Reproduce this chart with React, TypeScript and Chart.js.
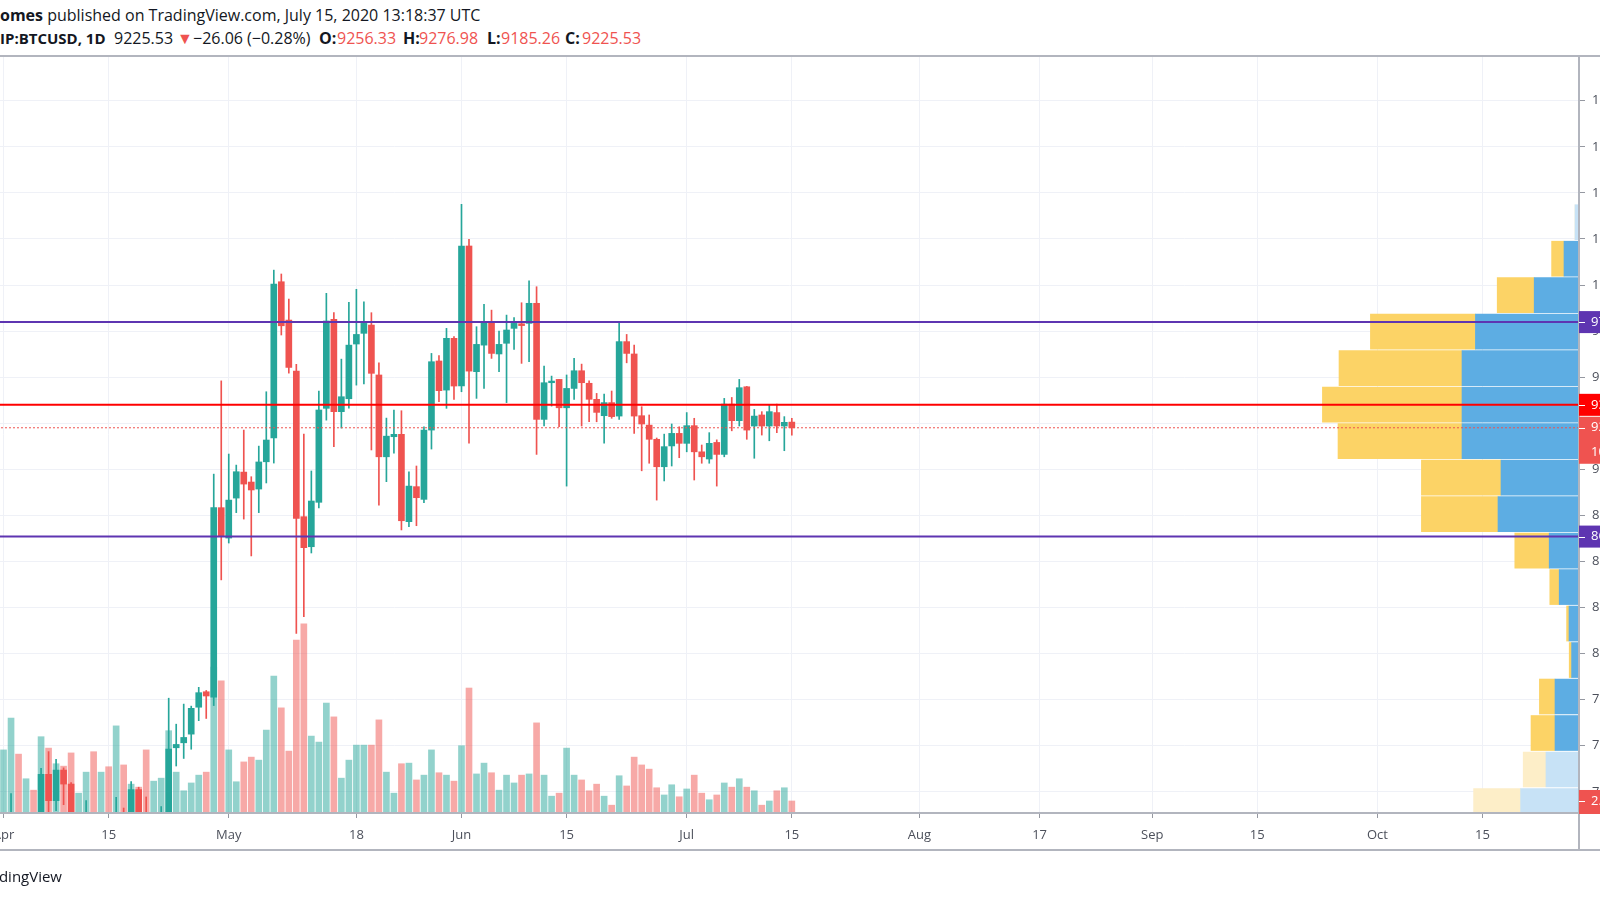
import React, { useEffect, useRef } from "react";
import { Chart, registerables } from "chart.js";

Chart.register(...registerables);

// ---------- data ----------
const dates = [
  "2020-04-01","2020-04-02","2020-04-03","2020-04-04","2020-04-05","2020-04-06","2020-04-07","2020-04-08","2020-04-09","2020-04-10",
  "2020-04-11","2020-04-12","2020-04-13","2020-04-14","2020-04-15","2020-04-16","2020-04-17","2020-04-18","2020-04-19","2020-04-20",
  "2020-04-21","2020-04-22","2020-04-23","2020-04-24","2020-04-25","2020-04-26","2020-04-27","2020-04-28","2020-04-29","2020-04-30",
  "2020-05-01","2020-05-02","2020-05-03","2020-05-04","2020-05-05","2020-05-06","2020-05-07","2020-05-08","2020-05-09","2020-05-10",
  "2020-05-11","2020-05-12","2020-05-13","2020-05-14","2020-05-15","2020-05-16","2020-05-17","2020-05-18","2020-05-19","2020-05-20",
  "2020-05-21","2020-05-22","2020-05-23","2020-05-24","2020-05-25","2020-05-26","2020-05-27","2020-05-28","2020-05-29","2020-05-30",
  "2020-05-31",
  "2020-06-01","2020-06-02","2020-06-03","2020-06-04","2020-06-05","2020-06-06","2020-06-07","2020-06-08","2020-06-09","2020-06-10",
  "2020-06-11","2020-06-12","2020-06-13","2020-06-14","2020-06-15","2020-06-16","2020-06-17","2020-06-18","2020-06-19","2020-06-20",
  "2020-06-21","2020-06-22","2020-06-23","2020-06-24","2020-06-25","2020-06-26","2020-06-27","2020-06-28","2020-06-29","2020-06-30",
  "2020-07-01","2020-07-02","2020-07-03","2020-07-04","2020-07-05","2020-07-06","2020-07-07","2020-07-08","2020-07-09","2020-07-10",
  "2020-07-11","2020-07-12","2020-07-13","2020-07-14","2020-07-15",
];

const opens = [
  6410, 6640, 6800, 6735, 6860, 6775, 7345, 7202, 7368, 7292, 6865, 6890, 6910, 6850, 6860, 6630, 7110, 7040, 7262, 7130,
  6850, 6860, 7130, 7489, 7516, 7563, 7709, 7793, 7763, 8792,
  8627, 8844, 8985, 8931, 8893, 9041, 9170, 10018, 9810, 9533, 8743, 8580, 8821, 9331, 9814, 9313, 9383, 9680, 9738, 9783,
  9512, 9068, 9177, 9190, 8716, 8906, 8837, 9213, 9588, 9430, 9711,
  9452, 10212, 9530, 9674, 9801, 9626, 9684, 9765, 9790, 9792, 9901, 9271, 9470, 9488, 9334, 9439, 9535, 9467, 9380, 9291,
  9362, 9289, 9693, 9626, 9291, 9240, 9163, 9014, 9127, 9195,
  9141, 9237, 9095, 9056, 9146, 9081, 9354, 9264, 9448, 9235, 9295, 9235, 9308, 9235, 9256.33,
];

const highs = [
  6700, 7240, 7030, 6990, 6880, 7378, 7468, 7426, 7380, 7300, 6950, 7202, 6915, 6980, 6940, 7220, 7162, 7306, 7275, 7222,
  6950, 7170, 7758, 7617, 7726, 7715, 7817, 7800, 8974, 9480,
  9083, 9023, 9213, 8960, 9126, 9421, 10081, 10060, 9924, 9570, 9191, 8991, 9425, 9955, 9850, 9598, 9906, 9977, 9909, 9850,
  9578, 9278, 9322, 9318, 8987, 9018, 9231, 9629, 9617, 9765, 9720,
  10438, 10248, 9774, 9895, 9864, 9750, 9837, 9823, 9904, 10023, 9991, 9560, 9506, 9488, 9512, 9602, 9571, 9480, 9412, 9408,
  9425, 9801, 9732, 9674, 9340, 9295, 9170, 9191, 9246, 9231,
  9308, 9277, 9132, 9199, 9160, 9385, 9390, 9488, 9450, 9325, 9313, 9352, 9354, 9286, 9276.98,
];

const lows = [
  6150, 6580, 6600, 6680, 6670, 6770, 7100, 7148, 7180, 6750, 6770, 6810, 6550, 6770, 6610, 6480, 6990, 7030, 7060, 6800,
  6800, 6840, 7030, 7390, 7431, 7481, 7636, 7648, 7718, 8400,
  8600, 8765, 8730, 8530, 8765, 8926, 9034, 9729, 9522, 8110, 8200, 8546, 8790, 9267, 9123, 9224, 9332, 9457, 9463, 9105,
  8806, 8933, 9088, 8671, 8689, 8694, 8819, 9110, 9367, 9331, 9380,
  9421, 9142, 9385, 9439, 9602, 9530, 9362, 9651, 9575, 9584, 9081, 9235, 9343, 9231, 8909, 9380, 9235, 9258, 9258, 9142,
  9277, 9271, 9578, 9195, 8992, 9033, 8833, 8937, 9018, 9063,
  9095, 8942, 9033, 9033, 8909, 9068, 9209, 9235, 9163, 9060, 9186, 9155, 9199, 9101, 9185.26,
];

const closes = [
  6640, 6800, 6735, 6860, 6775, 7345, 7202, 7368, 7292, 6865, 6890, 6910, 6850, 6860, 6630, 7110, 7040, 7262, 7130, 6850,
  6860, 7130, 7482, 7507, 7545, 7703, 7788, 7770, 8792, 8638,
  8833, 8987, 8920, 8888, 9040, 9159, 10005, 9779, 9553, 8734, 8575, 8828, 9322, 9805, 9313, 9394, 9674, 9732, 9792, 9521,
  9068, 9180, 9190, 8721, 8909, 8846, 9213, 9584, 9427, 9711, 9452,
  10212, 9533, 9678, 9801, 9629, 9678, 9756, 9792, 9780, 9901, 9271, 9470, 9479, 9334, 9439, 9535, 9470, 9380, 9309, 9362,
  9286, 9693, 9629, 9289, 9246, 9163, 9014, 9123, 9195, 9141,
  9237, 9095, 9068, 9141, 9081, 9354, 9264, 9443, 9213, 9289, 9235, 9313, 9235, 9255, 9225.53,
];

// volume, thousand BTC
const volumes = [
  10.5, 15.8, 9.8, 5.7, 3.8, 12.7, 10.8, 8.2, 7.8, 10.0, 3.3, 6.8, 10.2, 6.8, 7.7, 14.5, 8.0, 4.8, 4.3, 10.5,
  5.3, 5.8, 13.7, 6.8, 3.7, 5.0, 6.3, 6.8, 24.3, 22.0,
  10.5, 5.2, 8.5, 9.3, 8.8, 13.8, 22.8, 17.5, 10.3, 28.8, 31.5, 12.8, 11.8, 18.3, 16.0, 5.8, 8.8, 11.3, 11.3, 11.3,
  15.5, 6.8, 3.3, 8.2, 8.3, 5.5, 6.3, 10.5, 6.7, 6.3, 5.3,
  11.2, 20.8, 6.5, 8.3, 6.7, 3.8, 6.3, 5.0, 6.3, 6.5, 15.0, 6.3, 2.8, 3.3, 10.8, 6.3, 5.5, 3.7, 4.8, 2.8,
  1.3, 6.2, 4.5, 9.3, 8.0, 7.3, 4.2, 3.0, 4.7, 2.7,
  4.0, 6.3, 3.3, 2.2, 3.0, 5.0, 4.3, 5.7, 4.3, 3.7, 1.3, 2.0, 3.7, 4.2, 2.0,
];

// time axis ticks (days after 2020-04-01)
const xTickDays = [0, 14, 30, 47, 61, 75, 91, 105, 122, 138, 153, 167, 183, 197];
const xTickLabels = ["Apr", "15", "May", "18", "Jun", "15", "Jul", "15", "Aug", "17", "Sep", "15", "Oct", "15"];

// price axis ticks
const yTickValues = [7250, 7500, 7750, 8000, 8250, 8500, 8750, 9000, 9250, 9500, 9750, 10000, 10250, 10500, 10750, 11000];

// volume profile (visible range), row centre prices and up / down volume
const profilePrices = [10341, 10143, 9945, 9747, 9549, 9351, 9153, 8955, 8757, 8559, 8361, 8163, 7965, 7767, 7569, 7371, 7173];
const profileUp = [2.0, 7.5, 22.4, 51.8, 58.5, 58.5, 58.5, 39.0, 40.5, 14.9, 9.9, 5.0, 3.7, 12.0, 12.0, 16.5, 29.2];
const profileDown = [0, 6.2, 18.5, 52.5, 61.5, 69.8, 62.0, 39.8, 38.3, 17.2, 4.7, 1.2, 1.2, 7.8, 12.0, 11.4, 23.5];
const profileValueArea = [false, true, true, true, true, true, true, true, true, true, true, true, true, true, true, false, false];

// horizontal levels
const resistanceLevel = 9799;
const pivotLevel = 9350;
const supportLevel = 8635;
const lastPrice = 9225.53;
const countdownText = "10:41:23";

// ---------- layout / style ----------
const CANVAS_W = 1660;
const CANVAS_H = 900;
const AREA_RIGHT = 1579;
const PRICE_MIN = 7135;
const PRICE_MAX = 11243;
const X_MIN = -0.47;
const X_MAX = 209.85;

const UP = "#26a69a";
const DOWN = "#ef5350";
const UP_VOL = "rgba(38,166,154,0.5)";
const DOWN_VOL = "rgba(239,83,80,0.5)";
const PURPLE = "#5e35b1";
const GRID = "#eff1f7";
const FRAME = "#b2b5be";
const AXIS_TEXT = "#4c505b";
const FONT = "'Open Sans', sans-serif";

export default function App() {
  const ref = useRef<HTMLCanvasElement | null>(null);

  useEffect(() => {
    const canvas = ref.current;
    if (!canvas) return;
    const t0 = Date.parse("2020-04-01");
    const dayIdx = dates.map((d) => (Date.parse(d) - t0) / 86400000);
    const isUp = closes.map((c, i) => c >= opens[i]);
    const candleColors = isUp.map((u) => (u ? UP : DOWN));
    const volColors = isUp.map((u) => (u ? UP_VOL : DOWN_VOL));
    const profTotals = profileUp.map((u, i) => u + profileDown[i]);
    const profMax = Math.max(...profTotals) / 0.1625;

    const hline = (level: number, color: string, width: number, dash: number[] = []) => ({
      type: "line" as const,
      data: [
        { x: X_MIN - 2, y: level },
        { x: X_MAX + 2, y: level },
      ],
      borderColor: color,
      borderWidth: width,
      borderDash: dash,
      pointRadius: 0,
      xAxisID: "x",
      yAxisID: "y",
      order: 0,
      fill: false,
    });

    const overlay = {
      id: "tvOverlay",
      afterDraw(chart: any) {
        const ctx = chart.ctx as CanvasRenderingContext2D;
        const ys = chart.scales.y;
        const yv = chart.scales.yv;
        const area = chart.chartArea;
        ctx.save();
        ctx.strokeStyle = FRAME;
        ctx.lineWidth = 2;
        ctx.beginPath();
        ctx.moveTo(0, area.top);
        ctx.lineTo(CANVAS_W, area.top);
        ctx.moveTo(0, area.bottom);
        ctx.lineTo(CANVAS_W, area.bottom);
        ctx.moveTo(0, 850);
        ctx.lineTo(CANVAS_W, 850);
        ctx.moveTo(area.right, area.top);
        ctx.lineTo(area.right, 851);
        ctx.stroke();

        const box = (y: number, color: string, lines: string[], h = 22) => {
          ctx.fillStyle = color;
          ctx.fillRect(area.right, y - 11, CANVAS_W - area.right, h);
          ctx.strokeStyle = "#ffffff";
          ctx.lineWidth = 1;
          ctx.beginPath();
          ctx.moveTo(area.right, Math.round(y) + 0.5);
          ctx.lineTo(area.right + 6, Math.round(y) + 0.5);
          ctx.stroke();
          ctx.fillStyle = "#ffffff";
          ctx.font = `13px ${FONT}`;
          ctx.textBaseline = "middle";
          ctx.textAlign = "left";
          lines.forEach((t, k) => ctx.fillText(t, area.right + 12, y + k * 25));
        };
        box(ys.getPixelForValue(resistanceLevel), PURPLE, [resistanceLevel.toFixed(2)]);
        box(ys.getPixelForValue(pivotLevel), "#ff0000", [pivotLevel.toFixed(2)]);
        box(ys.getPixelForValue(lastPrice), DOWN, [lastPrice.toFixed(2), countdownText], 47);
        box(ys.getPixelForValue(supportLevel), PURPLE, [supportLevel.toFixed(2)]);
        const lastVol = volumes[volumes.length - 1];
        box(yv.getPixelForValue(lastVol), isUp[isUp.length - 1] ? UP : DOWN, [lastVol.toFixed(3) + "K"], 24);
        ctx.restore();
      },
    };

    const chart = new Chart(canvas, {
      type: "bar",
      data: {
        datasets: [
          hline(resistanceLevel, PURPLE, 2),
          hline(supportLevel, PURPLE, 2),
          hline(pivotLevel, "#ff0000", 2),
          hline(lastPrice, DOWN, 1, [2, 2]),
          {
            type: "bar",
            data: dayIdx.map((d, i) => ({ x: d, y: [opens[i], closes[i]] })),
            backgroundColor: candleColors,
            barThickness: 6,
            minBarLength: 1,
            grouped: false,
            borderWidth: 0,
            xAxisID: "x",
            yAxisID: "y",
            order: 1,
          },
          {
            type: "bar",
            data: dayIdx.map((d, i) => ({ x: d, y: [lows[i], highs[i]] })),
            backgroundColor: candleColors,
            barThickness: 1,
            grouped: false,
            borderWidth: 0,
            xAxisID: "x",
            yAxisID: "y",
            order: 2,
          },
          {
            type: "bar",
            indexAxis: "y",
            data: profilePrices.map((p, i) => ({ y: p, x: [0, profileUp[i]] })),
            backgroundColor: profileValueArea.map((v) => (v ? "#5dade3" : "#c7e2f6")),
            barThickness: 35,
            grouped: false,
            borderWidth: 0,
            xAxisID: "xp",
            yAxisID: "yp",
            order: 3,
          },
          {
            type: "bar",
            indexAxis: "y",
            data: profilePrices.map((p, i) => ({ y: p, x: [profileUp[i], profileUp[i] + profileDown[i]] })),
            backgroundColor: profileValueArea.map((v) => (v ? "#fcd366" : "#fdeec8")),
            barThickness: 35,
            grouped: false,
            borderWidth: 0,
            xAxisID: "xp",
            yAxisID: "yp",
            order: 3,
          },
          {
            type: "bar",
            data: dayIdx.map((d, i) => ({ x: d, y: volumes[i] })),
            backgroundColor: volColors,
            barThickness: 6,
            grouped: false,
            borderWidth: 0,
            xAxisID: "x",
            yAxisID: "yv",
            order: 4,
          },
        ] as any,
      },
      options: {
        responsive: false,
        animation: false,
        devicePixelRatio: 1,
        events: [],
        layout: { padding: { top: 56, bottom: 50, left: 0, right: 0 } },
        plugins: { legend: { display: false }, tooltip: { enabled: false } },
        scales: {
          x: {
            type: "linear",
            position: "bottom",
            min: X_MIN,
            max: X_MAX,
            offset: false,
            afterBuildTicks: (s: any) => {
              s.ticks = xTickDays.map((v) => ({ value: v }));
            },
            afterFit: (s: any) => {
              s.height = 37;
              s.paddingLeft = 0;
              s.paddingRight = 0;
            },
            ticks: {
              autoSkip: false,
              maxRotation: 0,
              padding: 9,
              color: AXIS_TEXT,
              font: { size: 13, family: FONT },
              callback: (v: any) => {
                const k = xTickDays.indexOf(Number(v));
                return k >= 0 ? xTickLabels[k] : "";
              },
            },
            grid: { color: GRID, lineWidth: 1, tickLength: 5, tickColor: "#9598a1", offset: false },
            border: { display: false },
          },
          y: {
            type: "linear",
            position: "right",
            min: PRICE_MIN,
            max: PRICE_MAX,
            offset: false,
            afterBuildTicks: (s: any) => {
              s.ticks = yTickValues.map((v) => ({ value: v }));
            },
            afterFit: (s: any) => {
              s.width = CANVAS_W - AREA_RIGHT;
            },
            ticks: {
              padding: 7,
              color: AXIS_TEXT,
              font: { size: 13, family: FONT },
              callback: (v: any) => Number(v).toFixed(2),
            },
            grid: { color: GRID, lineWidth: 1, tickLength: 6, tickColor: "#9598a1" },
            border: { display: false },
          },
          yv: {
            type: "linear",
            axis: "y",
            display: false,
            offset: false,
            min: 0,
            max: Math.max(...volumes) * 4,
          },
          xp: {
            type: "linear",
            axis: "x",
            display: false,
            offset: false,
            grid: { offset: false },
            reverse: true,
            min: 0,
            max: profMax,
          },
          yp: {
            type: "linear",
            axis: "y",
            display: false,
            offset: false,
            grid: { offset: false },
            min: PRICE_MIN,
            max: PRICE_MAX,
          },
        } as any,
      },
      plugins: [overlay],
    } as any);
    return () => chart.destroy();
  }, []);

  const hdr: React.CSSProperties = {
    position: "absolute",
    whiteSpace: "nowrap",
    font: `16px ${FONT}`,
    color: "#131722",
    lineHeight: "20px",
  };
  const red = "#ef5350";
  const seg = (left: number, text: string, bold = false, color = "#131722", size = 16) => (
    <span style={{ position: "absolute", left, fontWeight: bold ? 700 : 400, color, fontSize: size }}>{text}</span>
  );

  return (
    <div
      style={{
        position: "fixed",
        left: 0,
        top: 0,
        width: 1600,
        height: 900,
        overflow: "hidden",
        background: "#ffffff",
      }}
    >
      <div style={{ ...hdr, left: 0, top: 5 }}>
        <b>omes</b> published on TradingView.com, July 15, 2020 13:18:37 UTC
      </div>
      <div style={{ ...hdr, left: 0, top: 28, width: 700, height: 20 }}>
        {seg(0, "IP:BTCUSD, 1D", true, "#131722", 15)}
        {seg(114, "9225.53")}
        {seg(177, "▼", false, red)}
        {seg(193, "−26.06 (−0.28%)")}
        {seg(319, "O:", true)}
        {seg(337, "9256.33", false, red)}
        {seg(403, "H:", true)}
        {seg(419, "9276.98", false, red)}
        {seg(487, "L:", true)}
        {seg(501, "9185.26", false, red)}
        {seg(565, "C:", true)}
        {seg(582, "9225.53", false, red)}
      </div>
      <canvas
        ref={ref}
        width={CANVAS_W}
        height={CANVAS_H}
        style={{ position: "absolute", left: 0, top: 0, width: CANVAS_W, height: CANVAS_H }}
      />
      <div
        style={{
          position: "absolute",
          left: 0,
          top: 865,
          width: 62,
          height: 22,
          overflow: "hidden",
          display: "flex",
          justifyContent: "flex-end",
          whiteSpace: "nowrap",
          font: `15px ${FONT}`,
          color: "#131722",
          lineHeight: "22px",
        }}
      >
        <span>TradingView</span>
      </div>
    </div>
  );
}
